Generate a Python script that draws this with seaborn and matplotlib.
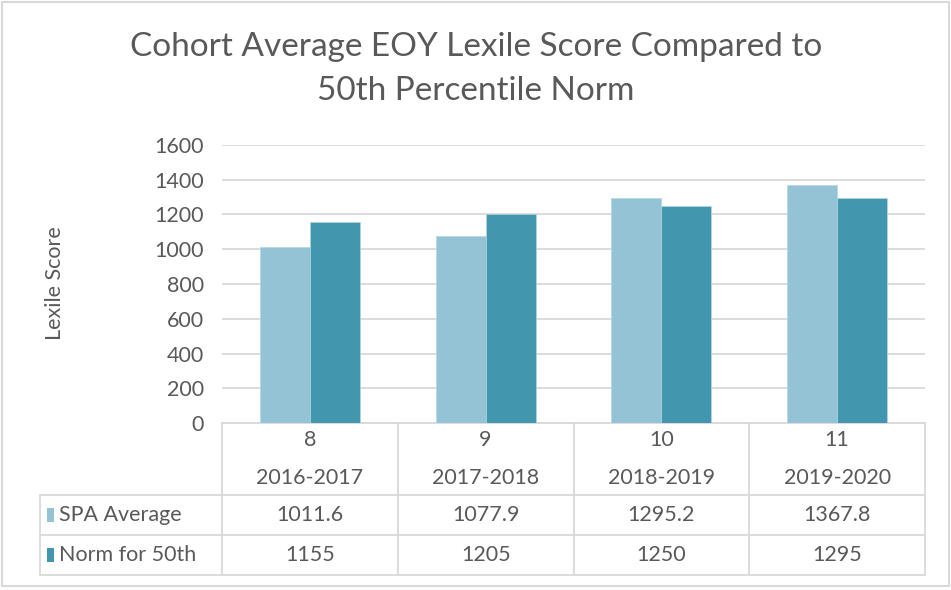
import matplotlib
matplotlib.use("Agg")
import matplotlib.pyplot as plt
import matplotlib.transforms as mtransforms
from matplotlib.lines import Line2D
from matplotlib.patches import Rectangle
import seaborn as sns
import pandas as pd

# ---- data ----
grades = ["8", "9", "10", "11"]
years = ["2016-2017", "2017-2018", "2018-2019", "2019-2020"]
series_names = ["SPA Average", "Norm for 50th"]
spa_average = [1011.6, 1077.9, 1295.2, 1367.8]
norm_50th = [1155, 1205, 1250, 1295]
spa_labels = ["1011.6", "1077.9", "1295.2", "1367.8"]
norm_labels = ["1155", "1205", "1250", "1295"]
y_ticks = [0, 200, 400, 600, 800, 1000, 1200, 1400, 1600]
title = "Cohort Average EOY Lexile Score Compared to\n50th Percentile Norm"
y_label = "Lexile Score"
colors = ["#93C3D4", "#4297AF"]

sns.set_theme(style="white")
plt.rcParams['font.family'] = ['Lato', 'DejaVu Sans']
TXT = "#595959"
GRID = "#D9D9D9"

W, H = 951, 590
fig = plt.figure(figsize=(9.51, 5.9), dpi=100)
fig.patch.set_facecolor("white")


def fx(px):
    return px / W


def fy(py):
    return 1 - py / H


ax = fig.add_axes([fx(222), fy(423), fx(925) - fx(222), fy(145) - fy(423)])
cats = [f"{g}\n{y}" for g, y in zip(grades, years)]
df = pd.DataFrame({
    "cat": cats * 2,
    "series": [series_names[0]] * 4 + [series_names[1]] * 4,
    "value": spa_average + norm_50th,
})
sns.barplot(data=df, x="cat", y="value", hue="series", hue_order=series_names,
            palette=colors, ax=ax, width=0.57, saturation=1, legend=False,
            linewidth=0.5, edgecolor="#B5D6E2", zorder=3)

ft = 15.5
ax.set_xlim(-0.5, len(cats) - 0.5)
ax.set_ylim(0, 1600)
ax.set_yticks(y_ticks)
ax.set_yticklabels([str(t) for t in y_ticks], color=TXT, fontsize=ft)
ax.tick_params(axis="y", length=0, pad=13)
ax.set_xticks([])
ax.set_xlabel("")
ax.set_ylabel("")
ax.grid(axis="y", color=GRID, linewidth=1.3, zorder=0)
ax.set_axisbelow(True)
for s in ["left", "right", "top"]:
    ax.spines[s].set_visible(False)
ax.spines["bottom"].set_color(GRID)
ax.spines["bottom"].set_linewidth(1.3)

fig.text(fx(476), fy(69), title, ha="center", va="center", color=TXT,
         fontsize=24, linespacing=1.6)
fig.text(fx(55), fy(283), y_label, ha="center", va="center", rotation=90,
         color=TXT, fontsize=ft)

# ---- data table ----
trans = mtransforms.blended_transform_factory(ax.transData, fig.transFigure)
for i in range(len(cats)):
    fig.text(i, fy(440), grades[i], transform=trans, ha="center", va="center",
             color=TXT, fontsize=ft)
    fig.text(i, fy(478), years[i], transform=trans, ha="center", va="center",
             color=TXT, fontsize=ft)
    fig.text(i, fy(515), spa_labels[i], transform=trans, ha="center", va="center",
             color=TXT, fontsize=ft)
    fig.text(i, fy(555), norm_labels[i], transform=trans, ha="center", va="center",
             color=TXT, fontsize=ft)

for k in range(len(cats) + 1):
    fig.add_artist(Line2D([k - 0.5, k - 0.5], [fy(423), fy(575)], transform=trans,
                          color=GRID, linewidth=1.3))
for py in [495, 535, 575]:
    fig.add_artist(Line2D([fx(40), fx(925)], [fy(py), fy(py)],
                          transform=fig.transFigure, color=GRID, linewidth=1.3))
fig.add_artist(Line2D([fx(40), fx(40)], [fy(495), fy(575)],
                      transform=fig.transFigure, color=GRID, linewidth=1.3))

for j, (name, yc) in enumerate(zip(series_names, [515, 555])):
    fig.add_artist(Rectangle((fx(47), fy(yc + 7)), fx(7), fy(yc - 7) - fy(yc + 7),
                             transform=fig.transFigure, facecolor=colors[j],
                             edgecolor="none"))
    fig.text(fx(59), fy(yc), name, ha="left", va="center", color=TXT, fontsize=ft)

# chart border
fig.add_artist(Rectangle((fx(1.5), fy(586)), fx(947), fy(1.5) - fy(586),
                         transform=fig.transFigure, facecolor="none",
                         edgecolor=GRID, linewidth=1.5))

fig.savefig("out.png", dpi=100, facecolor="white")
